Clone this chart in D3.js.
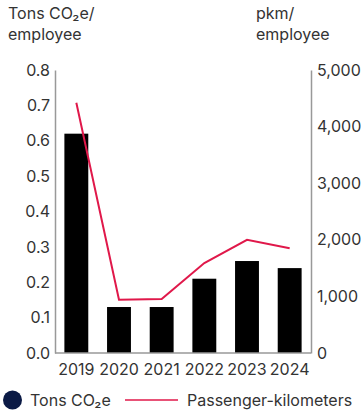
<!DOCTYPE html>
<html>
<head>
<meta charset="utf-8">
<script src="https://cdn.jsdelivr.net/npm/d3@7"></script>
<style>
  body { margin: 0; background: #fff; }
  text { font-family: Inter, "Noto Sans", sans-serif; fill: #333; }
</style>
</head>
<body>
<div id="chart"></div>
<script>
const years = ["2019", "2020", "2021", "2022", "2023", "2024"];
const co2 = [0.62, 0.13, 0.13, 0.21, 0.26, 0.24];
const pkm = [4420, 940, 955, 1590, 2000, 1850];
const leftTicks = [0, 0.1, 0.2, 0.3, 0.4, 0.5, 0.6, 0.7, 0.8];
const rightTicks = [0, 1000, 2000, 3000, 4000, 5000];

const width = 363, height = 411;
const plot = { left: 55, right: 311, top: 70, bottom: 353 };
const fontSize = 16;

const svg = d3.select("#chart").append("svg")
    .attr("width", width)
    .attr("height", height);

const x = d3.scaleBand()
    .domain(years)
    .range([plot.left, plot.right])
    .paddingInner(0.44)
    .paddingOuter(0.22);

const yLeft = d3.scaleLinear().domain([0, 0.8]).range([plot.bottom, plot.top]);
const yRight = d3.scaleLinear().domain([0, 5000]).range([plot.bottom, plot.top]);

// bars
svg.selectAll(".bar")
    .data(co2)
    .enter().append("rect")
    .attr("class", "bar")
    .attr("x", (d, i) => x(years[i]))
    .attr("y", d => yLeft(d))
    .attr("width", x.bandwidth())
    .attr("height", d => yLeft(0) - yLeft(d))
    .attr("fill", "#000");

// line
const line = d3.line()
    .x((d, i) => x(years[i]) + x.bandwidth() / 2)
    .y(d => yRight(d));

svg.append("path")
    .datum(pkm)
    .attr("d", line)
    .attr("fill", "none")
    .attr("stroke", "#e0184a")
    .attr("stroke-width", 2);

// axes
const leftAxis = svg.append("g")
    .attr("transform", `translate(${plot.left},0)`)
    .call(d3.axisLeft(yLeft).tickValues(leftTicks).tickFormat(d3.format(".1f")).tickSize(0).tickPadding(5));
leftAxis.select(".domain").attr("stroke", "#999").attr("stroke-width", 1.5);
leftAxis.selectAll("text").attr("font-size", fontSize);

const rightAxis = svg.append("g")
    .attr("transform", `translate(${plot.right},0)`)
    .call(d3.axisRight(yRight).tickValues(rightTicks).tickFormat(d3.format(",")).tickSize(0).tickPadding(6));
rightAxis.select(".domain").attr("stroke", "#999").attr("stroke-width", 1.5);
rightAxis.selectAll("text").attr("font-size", fontSize);

svg.append("line")
    .attr("x1", plot.left).attr("x2", plot.right)
    .attr("y1", plot.bottom).attr("y2", plot.bottom)
    .attr("stroke", "#999").attr("stroke-width", 1.5);

const xAxis = svg.append("g")
    .attr("transform", `translate(0,${plot.bottom})`)
    .call(d3.axisBottom(x).tickSize(0).tickPadding(11));
xAxis.select(".domain").remove();
xAxis.selectAll("text").attr("font-size", fontSize);

// axis titles
const leftTitle = svg.append("text").attr("x", 8).attr("y", 19).attr("font-size", fontSize);
leftTitle.append("tspan").text("Tons CO₂e/");
leftTitle.append("tspan").attr("x", 8).attr("dy", 21).text("employee");

const rightTitle = svg.append("text").attr("x", 256).attr("y", 19).attr("font-size", fontSize);
rightTitle.append("tspan").text("pkm/");
rightTitle.append("tspan").attr("x", 256).attr("dy", 21).text("employee");

// legend
const legendY = 400;
svg.append("circle").attr("cx", 12.5).attr("cy", legendY).attr("r", 9.5).attr("fill", "#0b1a45");
svg.append("text").attr("x", 30).attr("y", legendY + 5.5).attr("font-size", fontSize).text("Tons CO₂e");
svg.append("line")
    .attr("x1", 125).attr("x2", 178)
    .attr("y1", legendY).attr("y2", legendY)
    .attr("stroke", "#e0184a").attr("stroke-width", 1.5);
svg.append("text").attr("x", 187).attr("y", legendY + 5.5).attr("font-size", fontSize).text("Passenger-kilometers");
</script>
</body>
</html>
